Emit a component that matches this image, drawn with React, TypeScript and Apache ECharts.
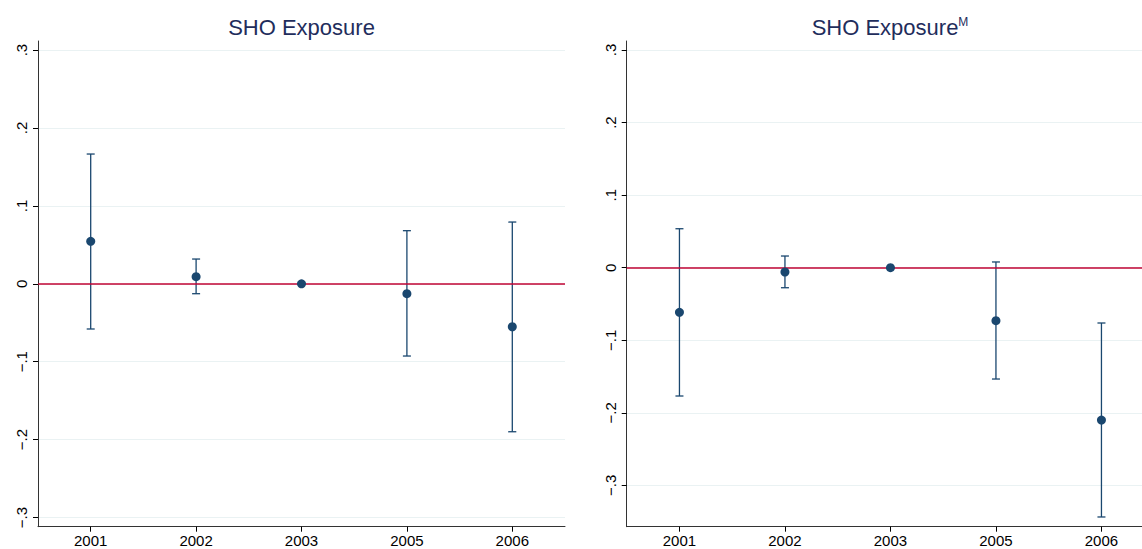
import React, { useEffect, useRef } from "react";
import * as echarts from "echarts";

const years = ["2001", "2002", "2003", "2005", "2006"];
const yTicks = [-0.3, -0.2, -0.1, 0, 0.1, 0.2, 0.3];

const leftCoef = [0.0546, 0.0091, 0, -0.0127, -0.0551];
const leftLow = [-0.058, -0.0127, 0, -0.0927, -0.1899];
const leftHigh = [0.1666, 0.0318, 0, 0.0682, 0.0793];

const rightCoef = [-0.0615, -0.0059, 0, -0.073, -0.2099];
const rightLow = [-0.1768, -0.0276, 0, -0.1534, -0.3435];
const rightHigh = [0.0537, 0.0161, 0, 0.0079, -0.0762];

const NAVY = "#1a476f";
const RED = "#c10534";
const FONT = "Liberation Sans, Arial, sans-serif";

const fmtTick = (v: number) => {
  if (Math.abs(v) < 1e-9) return "0";
  const s = "." + Math.round(Math.abs(v) * 10);
  return v < 0 ? "\u2212" + s : s;
};

function yAxisFor(gridIndex: number, min: number, max: number) {
  return {
    type: "value",
    gridIndex,
    min,
    max,
    axisLine: { show: true, lineStyle: { color: "#333", width: 1 } },
    axisTick: { show: true, length: 5, customValues: yTicks, lineStyle: { color: "#000" } },
    axisLabel: {
      customValues: yTicks,
      rotate: 90,
      margin: 9,
      fontSize: 15,
      fontFamily: FONT,
      color: "#000",
      formatter: (v: number) => fmtTick(v),
    },
    splitLine: { show: true, lineStyle: { color: "#eaf2f3", width: 1 } },
  };
}

function xAxisFor(gridIndex: number) {
  return {
    type: "category",
    gridIndex,
    data: years,
    boundaryGap: true,
    axisLine: { show: true, onZero: false, lineStyle: { color: "#333", width: 1 } },
    axisTick: { show: true, alignWithLabel: true, length: 5, lineStyle: { color: "#000" } },
    axisLabel: { margin: 7, fontSize: 15, lineHeight: 13, fontFamily: FONT, color: "#000" },
    splitLine: { show: false },
  };
}

function ciSeries(idx: number, low: number[], high: number[]) {
  return {
    type: "custom",
    xAxisIndex: idx,
    yAxisIndex: idx,
    z: 2,
    data: years.map((_, i) => [i, low[i], high[i]]),
    renderItem: (params: any, api: any) => {
      const x = api.value(0);
      const lo = api.coord([x, api.value(1)]);
      const hi = api.coord([x, api.value(2)]);
      const cap = 4;
      const style = { stroke: NAVY, lineWidth: 1.3 };
      return {
        type: "group",
        children: [
          { type: "line", shape: { x1: lo[0], y1: lo[1], x2: hi[0], y2: hi[1] }, style },
          { type: "line", shape: { x1: lo[0] - cap, y1: lo[1], x2: lo[0] + cap, y2: lo[1] }, style },
          { type: "line", shape: { x1: hi[0] - cap, y1: hi[1], x2: hi[0] + cap, y2: hi[1] }, style },
        ],
      };
    },
    silent: true,
  };
}

function pointSeries(idx: number, coef: number[]) {
  return {
    type: "scatter",
    xAxisIndex: idx,
    yAxisIndex: idx,
    z: 5,
    symbol: "circle",
    symbolSize: 9,
    itemStyle: { color: NAVY, opacity: 1 },
    data: years.map((_, i) => [i, coef[i]]),
    markLine: {
      silent: true,
      symbol: "none",
      label: { show: false },
      lineStyle: { color: RED, width: 1.5, type: "solid", opacity: 1 },
      data: [{ yAxis: 0 }],
    },
  };
}

export default function App() {
  const ref = useRef<HTMLDivElement>(null);
  useEffect(() => {
    if (!ref.current) return;
    const chart = echarts.init(ref.current, null, { renderer: "svg" });
    const titleColor = "#1f2d5c";
    chart.setOption({
      animation: false,
      backgroundColor: "#fff",
      title: [
        {
          text: "SHO Exposure",
          left: 296.5,
          top: 11,
          textAlign: "center",
          textStyle: { fontSize: 22, fontWeight: "normal", fontFamily: FONT, color: titleColor },
        },
        {
          text: "{t|SHO Exposure}{s|M}",
          left: 885,
          top: 11,
          textAlign: "center",
          textStyle: {
            fontWeight: "normal",
            rich: {
              t: { fontSize: 22, fontWeight: "normal", fontFamily: FONT, color: titleColor },
              s: { fontSize: 12, fontWeight: "normal", fontFamily: FONT, color: titleColor, verticalAlign: "top" },
            },
          },
        },
      ],
      grid: [
        { left: 38, top: 41, width: 527, bottom: 22.3, outerBoundsMode: "none" },
        { left: 626.7, top: 41, width: 527.5, bottom: 22.3, outerBoundsMode: "none" },
      ],
      xAxis: [xAxisFor(0), xAxisFor(1)],
      yAxis: [yAxisFor(0, -0.3118, 0.3117), yAxisFor(1, -0.3569, 0.3124)],
      series: [
        ciSeries(0, leftLow, leftHigh),
        pointSeries(0, leftCoef),
        ciSeries(1, rightLow, rightHigh),
        pointSeries(1, rightCoef),
      ],
    });
    return () => chart.dispose();
  }, []);
  return (
    <div
      ref={ref}
      style={{ position: "absolute", left: 0, top: 0, width: 1142, height: 549, overflow: "hidden" }}
    />
  );
}
